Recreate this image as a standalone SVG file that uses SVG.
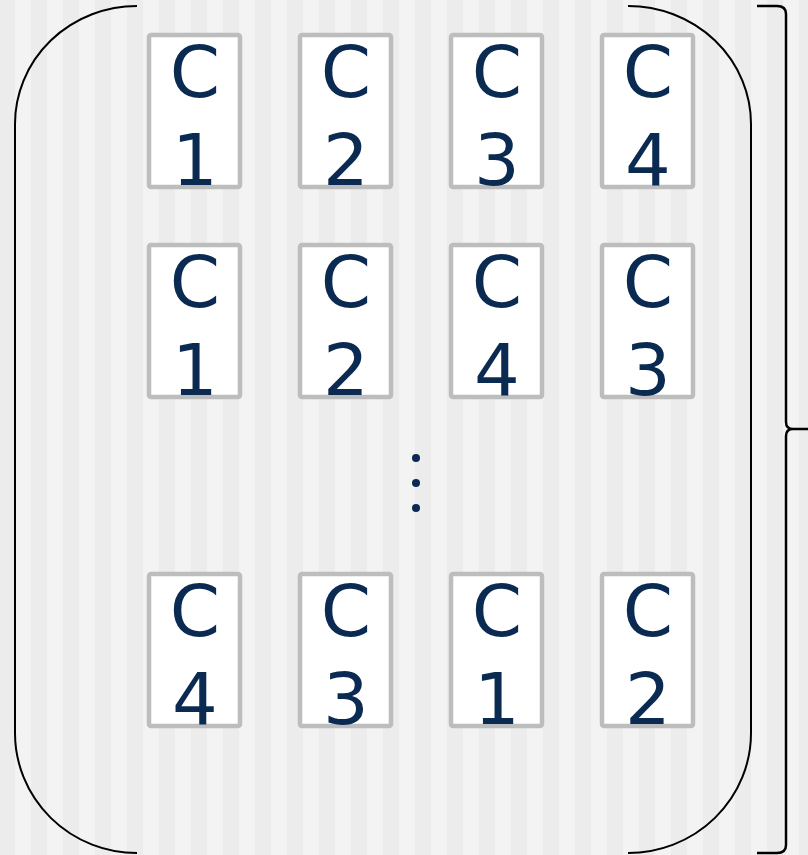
<svg xmlns="http://www.w3.org/2000/svg" width="808" height="855" viewBox="0 0 808 855">
<defs>
<pattern id="stripes" x="-1" y="0" width="32" height="855" patternUnits="userSpaceOnUse">
<rect x="0" y="0" width="16" height="855" fill="#ececec"/>
<rect x="16" y="0" width="16" height="855" fill="#f3f3f3"/>
</pattern>
<style>
.box{fill:#ffffff;stroke:#bdbdbd;stroke-width:4.5}
.t{font-family:"DejaVu Sans",Verdana,sans-serif;font-size:72px;fill:#0a2a52;text-anchor:middle}
.ln{fill:none;stroke:#000000;stroke-width:2}
.br{fill:none;stroke:#000000;stroke-width:2.5}
.dot{fill:#0a2a52}
</style>
</defs>
<rect x="0" y="0" width="808" height="855" fill="url(#stripes)"/>
<g id="connectors">
<path class="ln" d="M137,6 A122,118 0 0 0 15,124 L15,733 A122,120 0 0 0 137,853"/>
<path class="ln" d="M628,6 A123,118 0 0 1 751,124 L751,733 A123,120 0 0 1 628,853"/>
<path class="br" d="M757,6 L777,6 Q786,6 786,14 L786,422 Q786,429 793,429 L808,429 M793,429 Q786,429 786,436 L786,845 Q786,853 777,853 L757,853"/>
</g>
<g id="dots">
<circle class="dot" cx="416" cy="458" r="4"/>
<circle class="dot" cx="416" cy="483" r="4"/>
<circle class="dot" cx="416" cy="508" r="4"/>
</g>
<g id="r1c1"><rect class="box" x="149" y="35" width="91" height="152" rx="2"/><text class="t" x="195" y="97">C</text><text class="t" x="195" y="185">1</text></g>
<g id="r1c2"><rect class="box" x="300" y="35" width="91" height="152" rx="2"/><text class="t" x="346" y="97">C</text><text class="t" x="346" y="185">2</text></g>
<g id="r1c3"><rect class="box" x="451" y="35" width="91" height="152" rx="2"/><text class="t" x="497" y="97">C</text><text class="t" x="497" y="185">3</text></g>
<g id="r1c4"><rect class="box" x="602" y="35" width="91" height="152" rx="2"/><text class="t" x="648" y="97">C</text><text class="t" x="648" y="185">4</text></g>
<g id="r2c1"><rect class="box" x="149" y="245" width="91" height="152" rx="2"/><text class="t" x="195" y="307">C</text><text class="t" x="195" y="395">1</text></g>
<g id="r2c2"><rect class="box" x="300" y="245" width="91" height="152" rx="2"/><text class="t" x="346" y="307">C</text><text class="t" x="346" y="395">2</text></g>
<g id="r2c3"><rect class="box" x="451" y="245" width="91" height="152" rx="2"/><text class="t" x="497" y="307">C</text><text class="t" x="497" y="395">4</text></g>
<g id="r2c4"><rect class="box" x="602" y="245" width="91" height="152" rx="2"/><text class="t" x="648" y="307">C</text><text class="t" x="648" y="395">3</text></g>
<g id="r3c1"><rect class="box" x="149" y="574" width="91" height="152" rx="2"/><text class="t" x="195" y="636">C</text><text class="t" x="195" y="724">4</text></g>
<g id="r3c2"><rect class="box" x="300" y="574" width="91" height="152" rx="2"/><text class="t" x="346" y="636">C</text><text class="t" x="346" y="724">3</text></g>
<g id="r3c3"><rect class="box" x="451" y="574" width="91" height="152" rx="2"/><text class="t" x="497" y="636">C</text><text class="t" x="497" y="724">1</text></g>
<g id="r3c4"><rect class="box" x="602" y="574" width="91" height="152" rx="2"/><text class="t" x="648" y="636">C</text><text class="t" x="648" y="724">2</text></g>
</svg>
